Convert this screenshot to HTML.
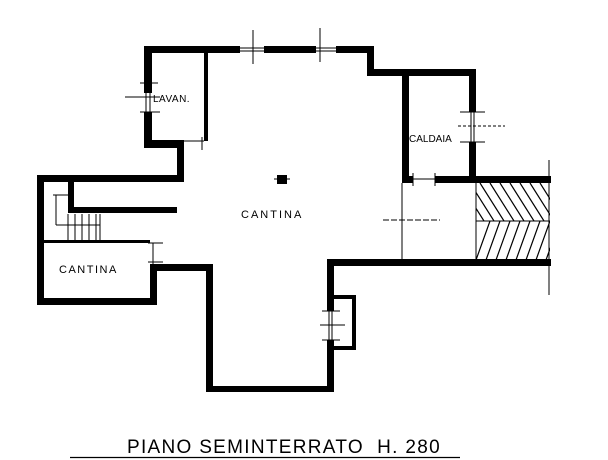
<!DOCTYPE html>
<html><head><style>
html,body{margin:0;padding:0;background:#fff;width:608px;height:460px;overflow:hidden}
svg{display:block}
text{font-family:"Liberation Sans",sans-serif;fill:#000}
</style></head><body>
<svg width="608" height="460" viewBox="0 0 608 460" xmlns="http://www.w3.org/2000/svg">
<defs>
<clipPath id="h1"><rect x="476" y="183" width="74" height="38"/></clipPath>
<clipPath id="h2"><rect x="476" y="221" width="74" height="39"/></clipPath>
</defs>
<g fill="#000">
<rect x="144" y="46" width="96" height="7"/>
<rect x="264" y="46" width="52" height="7"/>
<rect x="336" y="46" width="38" height="7"/>
<rect x="367" y="46" width="7" height="30"/>
<rect x="367" y="69" width="109" height="7"/>
<rect x="402" y="69" width="7" height="114"/>
<rect x="469" y="69" width="7" height="43"/>
<rect x="469" y="142" width="7" height="41"/>
<rect x="402" y="176" width="11" height="7"/>
<rect x="435" y="176" width="116" height="7"/>
<rect x="327" y="259" width="224" height="7"/>
<rect x="327" y="259" width="7" height="52"/>
<rect x="327" y="340" width="7" height="52"/>
<rect x="206" y="386" width="128" height="6"/>
<rect x="206" y="264" width="7" height="128"/>
<rect x="150" y="264" width="63" height="7"/>
<rect x="334" y="295" width="22" height="4"/>
<rect x="352" y="295" width="4" height="55"/>
<rect x="334" y="346" width="22" height="4"/>
<rect x="150" y="264" width="7" height="41"/>
<rect x="37" y="298" width="120" height="7"/>
<rect x="37" y="175" width="7" height="130"/>
<rect x="44" y="240" width="106" height="3"/>
<rect x="37" y="175" width="147" height="7"/>
<rect x="177" y="140" width="7" height="42"/>
<rect x="68" y="182" width="6" height="31"/>
<rect x="68" y="207" width="109" height="6"/>
<rect x="144" y="46" width="8" height="47"/>
<rect x="144" y="112" width="8" height="36"/>
<rect x="144" y="140" width="40" height="8"/>
<rect x="204" y="53" width="4" height="88"/>
<rect x="277" y="175" width="10" height="9"/>
</g>
<g stroke="#000" stroke-width="1" fill="none">
<line x1="240" y1="48" x2="264" y2="48"/><line x1="240" y1="51" x2="264" y2="51"/>
<line x1="316" y1="48" x2="336" y2="48"/><line x1="316" y1="51" x2="336" y2="51"/>
<line x1="253" y1="30" x2="253" y2="64"/><line x1="320" y1="28" x2="320" y2="62"/>
<line x1="146" y1="93" x2="146" y2="112"/><line x1="150" y1="93" x2="150" y2="112"/>
<line x1="125" y1="97" x2="160" y2="97"/><line x1="140" y1="112" x2="160" y2="112"/>
<line x1="140" y1="83" x2="158" y2="83"/>
<line x1="184" y1="141" x2="204" y2="141"/><line x1="202" y1="137" x2="202" y2="150"/>
<line x1="471" y1="112" x2="471" y2="142"/><line x1="474" y1="112" x2="474" y2="142"/>
<line x1="460" y1="112" x2="485" y2="112"/><line x1="460" y1="142" x2="485" y2="142"/>
<line x1="458" y1="126" x2="505" y2="126" stroke-dasharray="3,2"/>
<line x1="413" y1="179" x2="435" y2="179"/><line x1="413" y1="173" x2="413" y2="186"/><line x1="435" y1="173" x2="435" y2="186"/>
<line x1="402" y1="183" x2="402" y2="260"/>
<line x1="383" y1="220" x2="440" y2="220" stroke-dasharray="6,2"/>
<line x1="476" y1="183" x2="476" y2="260"/>
<line x1="476" y1="221" x2="550" y2="221"/>
<line x1="549" y1="160" x2="549" y2="295"/>
<line x1="329" y1="311" x2="329" y2="340"/><line x1="332" y1="311" x2="332" y2="340"/>
<line x1="320" y1="325" x2="345" y2="325"/><line x1="322" y1="311" x2="340" y2="311"/><line x1="322" y1="340" x2="340" y2="340"/>
<line x1="153" y1="243" x2="153" y2="264"/><line x1="148" y1="243" x2="163" y2="243"/><line x1="148" y1="262" x2="163" y2="262"/>
<line x1="56" y1="195" x2="56" y2="225"/><line x1="56" y1="225" x2="100" y2="225"/>
<line x1="68" y1="214" x2="68" y2="240"/><line x1="75" y1="214" x2="75" y2="240"/>
<line x1="82" y1="214" x2="82" y2="240"/><line x1="89" y1="214" x2="89" y2="240"/>
<line x1="96" y1="214" x2="96" y2="240"/><line x1="100" y1="214" x2="100" y2="240"/>
<line x1="53" y1="195" x2="68" y2="195"/>
<line x1="274" y1="179" x2="290" y2="179"/>
</g>
<g stroke="#000" stroke-width="1.2" clip-path="url(#h1)">
<line x1="470" y1="183" x2="494" y2="221"/><line x1="480" y1="183" x2="504" y2="221"/>
<line x1="490" y1="183" x2="514" y2="221"/><line x1="500" y1="183" x2="524" y2="221"/>
<line x1="510" y1="183" x2="534" y2="221"/><line x1="520" y1="183" x2="544" y2="221"/>
<line x1="530" y1="183" x2="554" y2="221"/><line x1="540" y1="183" x2="564" y2="221"/>
<line x1="460" y1="183" x2="484" y2="221"/>
</g>
<g stroke="#000" stroke-width="1.2" clip-path="url(#h2)">
<line x1="490" y1="221" x2="476" y2="260"/><line x1="500" y1="221" x2="486" y2="260"/>
<line x1="510" y1="221" x2="496" y2="260"/><line x1="520" y1="221" x2="506" y2="260"/>
<line x1="530" y1="221" x2="516" y2="260"/><line x1="540" y1="221" x2="526" y2="260"/>
<line x1="550" y1="221" x2="536" y2="260"/><line x1="560" y1="221" x2="546" y2="260"/>
</g>
<text x="153" y="102" font-size="10" letter-spacing="0.5">LAVAN.</text>
<text x="409" y="142" font-size="10">CALDAIA</text>
<text x="241" y="218" font-size="11" letter-spacing="2">CANTINA</text>
<text x="59" y="273" font-size="11" letter-spacing="1.5">CANTINA</text>
<text x="127" y="453" font-size="19" letter-spacing="1.3" xml:space="preserve">PIANO SEMINTERRATO  H. 280</text>
<line x1="70" y1="457.5" x2="460" y2="457.5" stroke="#000" stroke-width="1.2"/>
</svg>
</body></html>
